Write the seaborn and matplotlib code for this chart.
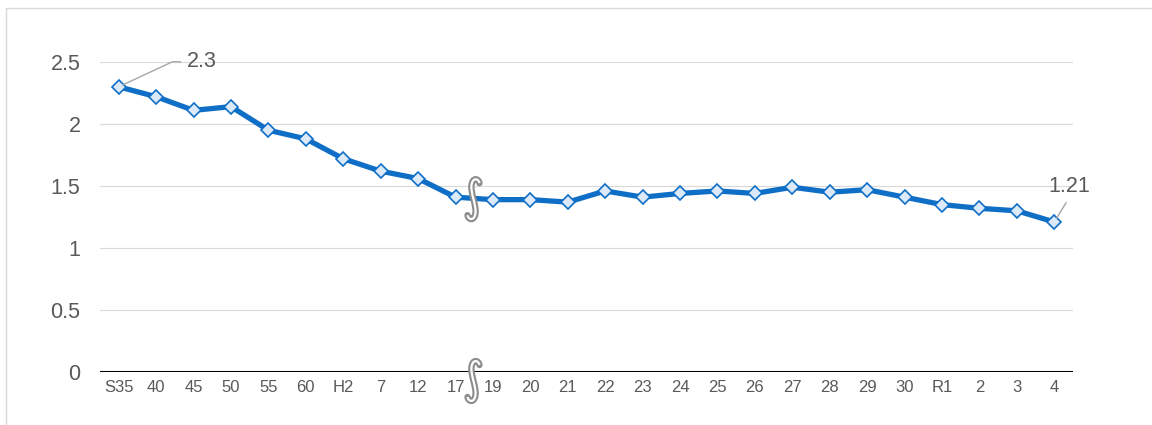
import numpy as np
import pandas as pd
import matplotlib
matplotlib.use("Agg")
import matplotlib.pyplot as plt
from matplotlib.path import Path
from matplotlib.patches import PathPatch
from matplotlib.lines import Line2D
import matplotlib.transforms as mtransforms
import seaborn as sns

# Periods (Showa, Heisei, Reiwa years) and the yearly values
periods = ["S35", "40", "45", "50", "55", "60", "H2", "7", "12", "17",
           "19", "20", "21", "22", "23", "24", "25", "26", "27", "28",
           "29", "30", "R1", "2", "3", "4"]
values = [2.30, 2.22, 2.11, 2.14, 1.95, 1.88, 1.72, 1.62, 1.56, 1.41,
          1.39, 1.39, 1.37, 1.46, 1.41, 1.44, 1.46, 1.44, 1.49, 1.45,
          1.47, 1.41, 1.35, 1.32, 1.30, 1.21]
y_ticks = [0, 0.5, 1, 1.5, 2, 2.5]
y_tick_labels = ["0", "0.5", "1", "1.5", "2", "2.5"]

sns.set_theme(style="white")
plt.rcParams["font.family"] = ["Liberation Sans", "DejaVu Sans"]

TEXT = "#595959"
BLUE = "#0F6FC6"
FILL = "#DCE9F8"
GRID = "#D9D9D9"

df = pd.DataFrame({"pos": np.arange(len(periods)), "value": values})

fig = plt.figure(figsize=(11.52, 4.25), dpi=100)
ax = fig.add_axes([100 / 1152, 1 - 372 / 425, 973 / 1152, 310 / 425])

sns.lineplot(data=df, x="pos", y="value", ax=ax, sort=False,
             color=BLUE, linewidth=3.8, marker="D", markersize=7,
             markerfacecolor=FILL, markeredgecolor=BLUE, markeredgewidth=1.2,
             zorder=4, clip_on=False)

ax.set_xlim(-0.5, len(periods) - 0.5)
ax.set_ylim(0, 2.5)
ax.set_xticks(np.arange(len(periods)))
ax.set_xticklabels(periods)
ax.set_yticks(y_ticks)
ax.set_yticklabels(y_tick_labels)
ax.set_xlabel("")
ax.set_ylabel("")

for v in y_ticks[1:]:
    ax.axhline(v, color=GRID, linewidth=0.8, zorder=1)
ax.axhline(0, color="black", linewidth=2.2, zorder=3)

for s in ax.spines.values():
    s.set_visible(False)
ax.tick_params(axis="x", length=0, pad=6, labelsize=12, colors=TEXT)
ax.tick_params(axis="y", length=0, pad=14, labelsize=15.5, colors=TEXT)

# Value callouts for the first and last points
ax.annotate(f"{values[0]:g}", xy=(0, values[0]), xytext=(49, 18),
            textcoords="offset points", ha="left", va="center",
            fontsize=15.5, color=TEXT, zorder=6,
            arrowprops=dict(arrowstyle="-", color="#A6A6A6", lw=1.0,
                            shrinkA=2, shrinkB=3, relpos=(0, 0.5),
                            connectionstyle="angle,angleA=0,angleB=25,rad=0"))
last = len(values) - 1
ax.annotate(f"{values[last]:g}", xy=(last, values[last]), xytext=(11, 18),
            textcoords="offset points", ha="center", va="bottom",
            fontsize=15.5, color=TEXT, zorder=6,
            arrowprops=dict(arrowstyle="-", color="#A6A6A6", lw=1.0,
                            shrinkA=2, shrinkB=3, relpos=(0.5, 0)))

# Axis-break marks between 17 and 19 (S-shaped double stroke)
s_curve = Path(np.array([[6, 16], [5, 21], [-1, 22], [-2, 14],
                         [-3, 6], [3, -6], [2, -14],
                         [1, -22], [-5, -21], [-6, -16]]) / 100.0,
               [Path.MOVETO, Path.CURVE4, Path.CURVE4, Path.CURVE4,
                Path.CURVE4, Path.CURVE4, Path.CURVE4,
                Path.CURVE4, Path.CURVE4, Path.CURVE4])
brk_x = 9.48
for brk_y, shift in ((values[9], -0.02), (0.0, -0.09)):
    tr = (fig.dpi_scale_trans
          + mtransforms.ScaledTranslation(0, shift, fig.dpi_scale_trans)
          + mtransforms.ScaledTranslation(brk_x, brk_y, ax.transData))
    ax.add_patch(PathPatch(s_curve, transform=tr, facecolor="none",
                           edgecolor="#8C8C8C", linewidth=4.6,
                           capstyle="round", zorder=7, clip_on=False))
    ax.add_patch(PathPatch(s_curve, transform=tr, facecolor="none",
                           edgecolor="white", linewidth=1.6,
                           capstyle="butt", zorder=8, clip_on=False))

# Thin frame along the left and top edges of the figure
fig.add_artist(Line2D([6 / 1152, 6 / 1152], [0, 1 - 8 / 425], color="#D9D9D9", lw=1.0))
fig.add_artist(Line2D([6 / 1152, 1], [1 - 8 / 425, 1 - 8 / 425], color="#D9D9D9", lw=1.0))

fig.savefig("out.png", dpi=100)
